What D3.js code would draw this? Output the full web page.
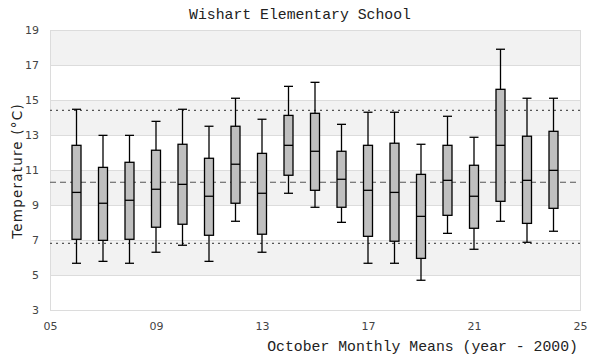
<!DOCTYPE html>
<html><head><meta charset="utf-8">
<script src="https://cdn.jsdelivr.net/npm/d3@7"></script>
<style>body{margin:0;background:#fff}svg{display:block}</style>
</head><body>
<svg id="c" width="600" height="360"></svg>
<script>
const years = [6,7,8,9,10,11,12,13,14,15,16,17,18,19,20,21,22,23,24];
const whiskerLow  = [5.67,5.78,5.67,6.30,6.70,5.78,8.07,6.30,9.67,8.87,8.01,5.67,5.67,4.70,7.38,6.47,8.07,6.87,7.50];
const q1          = [7.04,6.98,7.04,7.73,7.90,7.27,9.10,7.33,10.70,9.84,8.87,7.21,6.93,5.95,8.41,7.67,9.21,7.95,8.81];
const median      = [9.72,9.10,9.27,9.90,10.18,9.50,11.33,9.67,12.41,12.07,10.47,9.84,9.72,8.35,10.41,9.50,12.41,10.41,10.98];
const q3          = [12.41,11.15,11.44,12.13,12.47,11.67,13.50,11.95,14.12,14.24,12.07,12.41,12.53,10.75,12.41,11.27,15.61,12.93,13.21];
const whiskerHigh = [14.47,12.98,12.98,13.78,14.47,13.50,15.10,13.90,15.78,16.01,13.61,14.30,14.30,12.47,14.07,12.87,17.90,15.10,15.10];
const refLines = [{v:14.41,type:"dot"},{v:10.30,type:"dash"},{v:6.81,type:"dot"}];
const xTicks = [5,9,13,17,21,25];
const yTicks = [3,5,7,9,11,13,15,17,19];

const svg = d3.select("#c");
const L=50,R=580,T=30,B=310;
const x = d3.scaleLinear().domain([5,25]).range([L,R]);
const y = d3.scaleLinear().domain([3,19]).range([B,T]);

// bands
const bands = [];
for (let i=0;i<yTicks.length-1;i++) bands.push([yTicks[i],yTicks[i+1],i]);
svg.append("g").selectAll("rect").data(bands).join("rect")
  .attr("x",L).attr("width",R-L)
  .attr("y",d=>y(d[1])).attr("height",d=>y(d[0])-y(d[1]))
  .attr("fill",d=>d[2]%2===1?"#f2f2f2":"#ffffff");
// grid
svg.append("g").selectAll("line").data(yTicks).join("line")
  .attr("x1",L).attr("x2",R).attr("y1",d=>y(d)+0.5).attr("y2",d=>y(d)+0.5)
  .attr("stroke","#dcdcdc").attr("stroke-width",1);
svg.append("rect").attr("x",L+0.5).attr("y",T+0.5).attr("width",R-L).attr("height",B-T)
  .attr("fill","none").attr("stroke","#dcdcdc");

// ref lines
svg.append("g").selectAll("line").data(refLines).join("line")
  .attr("x1",L).attr("x2",R).attr("y1",d=>y(d.v)).attr("y2",d=>y(d.v))
  .attr("stroke","#555").attr("stroke-width",1.2)
  .attr("stroke-dasharray",d=>d.type==="dash"?"6,4":"2,4");

// axes
const yAxis = d3.axisLeft(y).tickValues(yTicks).tickSize(0).tickPadding(11).tickFormat(d3.format("d"));
const gy = svg.append("g").attr("transform",`translate(${L},0)`).call(yAxis);
const xAxis = d3.axisBottom(x).tickValues(xTicks).tickSize(0).tickPadding(12).tickFormat(d=>String(d).padStart(2,"0"));
const gx = svg.append("g").attr("transform",`translate(0,${B})`).call(xAxis);
[gy,gx].forEach(g=>{g.select(".domain").remove();
  g.selectAll("text").attr("fill","#444").style("font-family","DejaVu Sans, sans-serif").style("font-size","11px");});

// boxes
const data = years.map((yr,i)=>({yr,lo:whiskerLow[i],q1:q1[i],md:median[i],q3:q3[i],hi:whiskerHigh[i]}));
const bw = 9;
const g = svg.append("g").selectAll("g").data(data).join("g");
g.append("line").attr("x1",d=>x(d.yr)).attr("x2",d=>x(d.yr)).attr("y1",d=>y(d.hi)).attr("y2",d=>y(d.lo))
  .attr("stroke","#000").attr("stroke-width",1.3);
g.append("line").attr("x1",d=>x(d.yr)-bw/2).attr("x2",d=>x(d.yr)+bw/2).attr("y1",d=>y(d.hi)).attr("y2",d=>y(d.hi))
  .attr("stroke","#000").attr("stroke-width",1.3);
g.append("line").attr("x1",d=>x(d.yr)-bw/2).attr("x2",d=>x(d.yr)+bw/2).attr("y1",d=>y(d.lo)).attr("y2",d=>y(d.lo))
  .attr("stroke","#000").attr("stroke-width",1.3);
g.append("rect").attr("x",d=>x(d.yr)-bw/2).attr("width",bw).attr("y",d=>y(d.q3)).attr("height",d=>y(d.q1)-y(d.q3))
  .attr("fill","#bfbfbf").attr("stroke","#000").attr("stroke-width",1.3);
g.append("line").attr("x1",d=>x(d.yr)-bw/2).attr("x2",d=>x(d.yr)+bw/2).attr("y1",d=>y(d.md)).attr("y2",d=>y(d.md))
  .attr("stroke","#000").attr("stroke-width",1.3);

// titles
svg.append("text").attr("x",300).attr("y",19).attr("text-anchor","middle")
  .style("font-family","Liberation Mono, monospace").style("font-size","14.8px").attr("fill","#222")
  .text("Wishart Elementary School");
svg.append("text").attr("x",578).attr("y",351).attr("text-anchor","end")
  .style("font-family","Liberation Mono, monospace").style("font-size","14.8px").attr("fill","#222")
  .text("October Monthly Means (year - 2000)");
svg.append("text").attr("transform","translate(22,171) rotate(-90)").attr("text-anchor","middle")
  .style("font-family","DejaVu Sans, sans-serif").style("font-size","13.5px").style("letter-spacing","1.2px").attr("fill","#222")
  .text("Temperature (°C)");
</script>
</body></html>
